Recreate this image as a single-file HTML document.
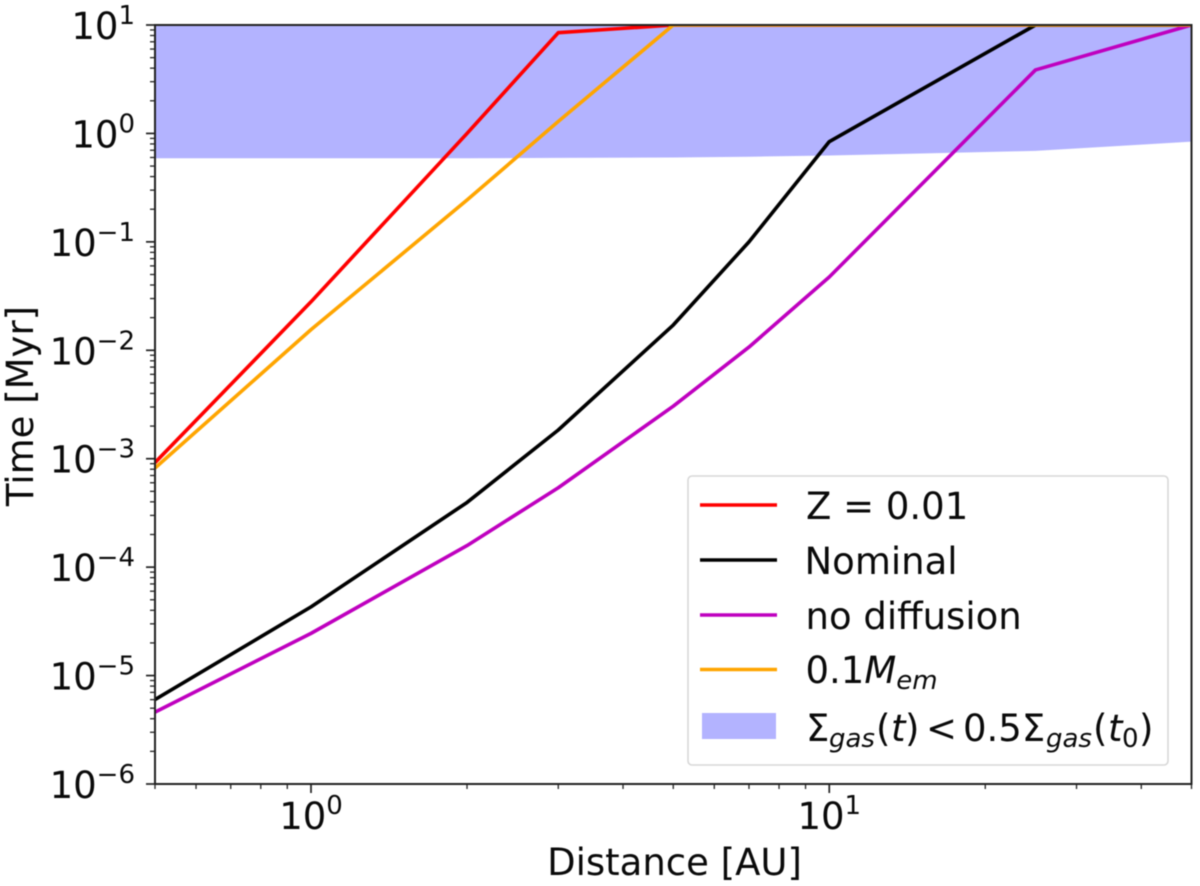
<!DOCTYPE html>
<html lang="en">
<head>
<meta charset="utf-8">
<title>Time vs Distance</title>
<style>
  html, body { margin: 0; padding: 0; background: #fff; }
  #chart { display: block; width: 1200px; height: 886px; filter: blur(0.5px); }
  text { font-family: "DejaVu Sans", "Liberation Sans", sans-serif; fill: #0a0a0a; }
  .lab { font-size: 37px; }
  .sub { font-size: 26px; font-style: italic; }
  .it { font-style: italic; }
</style>
</head>
<body>
<svg id="chart" xmlns="http://www.w3.org/2000/svg" width="1200" height="886" viewBox="0 0 1200 886">
  <defs>
    <clipPath id="plot-clip"><rect x="155" y="25" width="1036.5" height="759"/></clipPath>
  </defs>
  <rect x="0" y="0" width="1200" height="886" fill="#fff"/>
  <g id="plot" clip-path="url(#plot-clip)"></g>
  <g id="ticks"></g>
  <rect x="155" y="25" width="1036.5" height="759" fill="none" stroke="#222" stroke-width="2"/>
  <g id="tick-labels"></g>
  <text class="lab" x="674.5" y="875" text-anchor="middle">Distance [AU]</text>
  <text class="lab" transform="translate(33,406) rotate(-90)" text-anchor="middle">Time [Myr]</text>

  <g>
    <rect x="688" y="476" width="480" height="289" rx="4" ry="4" fill="#fff" fill-opacity="0.85" stroke="#d8d8d8" stroke-width="1.6"/>
    <g>
      <line x1="700" x2="777" y1="505" y2="505" stroke="#ff0000" stroke-width="3.6"/>
      <text class="lab" x="806" y="519">Z = 0.01</text>
    </g>
    <g>
      <line x1="700" x2="777" y1="560" y2="560" stroke="#000" stroke-width="3.6"/>
      <text class="lab" x="804.5" y="574">Nominal</text>
    </g>
    <g>
      <line x1="700" x2="777" y1="615" y2="615" stroke="#bf00bf" stroke-width="3.6"/>
      <text class="lab" x="805.5" y="629">no diffusion</text>
    </g>
    <g>
      <line x1="700" x2="777" y1="669.5" y2="669.5" stroke="#ffa500" stroke-width="3.6"/>
      <text class="lab" x="805.5" y="683">0.1<tspan class="it">M</tspan><tspan class="sub" dy="6">em</tspan></text>
    </g>
    <g>
      <rect x="702" y="713" width="74" height="26" fill="#b3b3ff"/>
      <text class="lab" y="741"><tspan x="806">Σ</tspan><tspan class="sub" x="829" dy="6">gas</tspan><tspan x="876" dy="-6">(</tspan><tspan class="it" x="891">t</tspan><tspan x="905">)</tspan><tspan x="926">&lt;</tspan><tspan x="963">0.5Σ</tspan><tspan class="sub" x="1046" dy="6">gas</tspan><tspan x="1093" dy="-6">(</tspan><tspan class="it" x="1108">t</tspan><tspan class="sub" style="font-style:normal" x="1122" dy="6">0</tspan><tspan x="1139" dy="-6">)</tspan></text>
    </g>
  </g>
</svg>
<script>
// Data
const distances = [0.5, 1, 2, 3, 5, 7, 10, 25, 50];
const timeZ001 = [9.2e-4, 0.028, 1.0, 8.5, 10, 10, 10, 10, 10];
const timeNominal = [6e-6, 4.3e-5, 3.95e-4, 1.84e-3, 0.0171, 0.1, 0.84, 10, 10];
const timeNoDiffusion = [4.6e-6, 2.45e-5, 1.58e-4, 5.4e-4, 3.05e-3, 0.0107, 0.0474, 3.85, 10];
const timeLowMass = [8.2e-4, 0.0155, 0.243, 1.29, 10, 10, 10, 10, 10];
const gasLowerBound = [0.59, 0.59, 0.59, 0.595, 0.6, 0.61, 0.625, 0.69, 0.84];
const gasUpperBound = [10, 10, 10, 10, 10, 10, 10, 10, 10];
const xTickExponents = [0, 1];
const yTickExponents = [1, 0, -1, -2, -3, -4, -5, -6];
const xMinorTicks = [0.5, 0.6, 0.7, 0.8, 0.9, 2, 3, 4, 5, 6, 7, 8, 9, 20, 30, 40, 50];
const yMinorMultiples = [2, 3, 4, 5, 6, 7, 8, 9];

// Axis functions
const SVGNS = 'http://www.w3.org/2000/svg';
const PLOT = { left: 155, right: 1191.5, top: 25, bottom: 784 };
const X_MIN = 0.5, X_MAX = 50, Y_MIN = 1e-6, Y_MAX = 10;
function xScale(v) {
  return PLOT.left + (Math.log10(v) - Math.log10(X_MIN)) / (Math.log10(X_MAX) - Math.log10(X_MIN)) * (PLOT.right - PLOT.left);
}
function yScale(v) {
  return PLOT.bottom - (Math.log10(v) - Math.log10(Y_MIN)) / (Math.log10(Y_MAX) - Math.log10(Y_MIN)) * (PLOT.bottom - PLOT.top);
}
function make(tag, attrs, parent) {
  const el = document.createElementNS(SVGNS, tag);
  for (const k in attrs) el.setAttribute(k, attrs[k]);
  parent.appendChild(el);
  return el;
}
function pathFrom(xs, ys) {
  return xs.map(function (x, i) {
    return (i ? 'L' : 'M') + xScale(x).toFixed(2) + ' ' + yScale(ys[i]).toFixed(2);
  }).join(' ');
}

const plot = document.getElementById('plot');
const ticks = document.getElementById('ticks');
const tickLabels = document.getElementById('tick-labels');

// Gas-depletion band
const bandPath = pathFrom(distances, gasUpperBound) + ' ' +
  distances.slice().reverse().map(function (x, i) {
    return 'L' + xScale(x).toFixed(2) + ' ' + yScale(gasLowerBound[distances.length - 1 - i]).toFixed(2);
  }).join(' ') + ' Z';
const band = make('path', { d: bandPath, fill: '#b3b3ff', stroke: 'none' }, plot);



// Series lines
const lineZ = make('path', { d: pathFrom(distances, timeZ001), fill: 'none', stroke: '#ff0000', 'stroke-width': 3.6, 'stroke-linejoin': 'round' }, plot);



const lineNominal = make('path', { d: pathFrom(distances, timeNominal), fill: 'none', stroke: '#000000', 'stroke-width': 3.6, 'stroke-linejoin': 'round' }, plot);



const lineNoDiff = make('path', { d: pathFrom(distances, timeNoDiffusion), fill: 'none', stroke: '#bf00bf', 'stroke-width': 3.6, 'stroke-linejoin': 'round' }, plot);



const lineLow = make('path', { d: pathFrom(distances, timeLowMass), fill: 'none', stroke: '#ffa500', 'stroke-width': 3.6, 'stroke-linejoin': 'round' }, plot);



// Ticks
xMinorTicks.forEach(function (v) {
  const t = make('line', { x1: xScale(v), x2: xScale(v), y1: PLOT.bottom, y2: PLOT.bottom + 5, stroke: '#222', 'stroke-width': 1.3 }, ticks);
  
  
});
xTickExponents.forEach(function (e) {
  const v = Math.pow(10, e);
  const t = make('line', { x1: xScale(v), x2: xScale(v), y1: PLOT.bottom, y2: PLOT.bottom + 9, stroke: '#222', 'stroke-width': 1.7 }, ticks);
  
  
  const label = make('text', { x: xScale(v), y: 829, 'text-anchor': 'middle', 'font-size': 37 }, tickLabels);
  
  
  const base = make('tspan', {}, label);
  base.textContent = '10';
  const sup = make('tspan', { dy: -15, 'font-size': 26 }, label);
  sup.textContent = String(e).replace('-', '\u2212');
});
yTickExponents.forEach(function (e) {
  const v = Math.pow(10, e);
  const y = yScale(v);
  const t = make('line', { x1: PLOT.left - 9, x2: PLOT.left, y1: y, y2: y, stroke: '#222', 'stroke-width': 1.7 }, ticks);
  
  
  const label = make('text', { x: 135, y: y + 14, 'text-anchor': 'end', 'font-size': 37 }, tickLabels);
  
  
  const base = make('tspan', {}, label);
  base.textContent = '10';
  const sup = make('tspan', { dy: -15, 'font-size': 26 }, label);
  sup.textContent = String(e).replace('-', '\u2212');
  if (e > -6) {
    yMinorMultiples.forEach(function (m) {
      const my = yScale(m * Math.pow(10, e - 1));
      const mt = make('line', { x1: PLOT.left - 5, x2: PLOT.left, y1: my, y2: my, stroke: '#222', 'stroke-width': 1.3 }, ticks);
      
      
    });
  }
});
</script>
</body>
</html>
